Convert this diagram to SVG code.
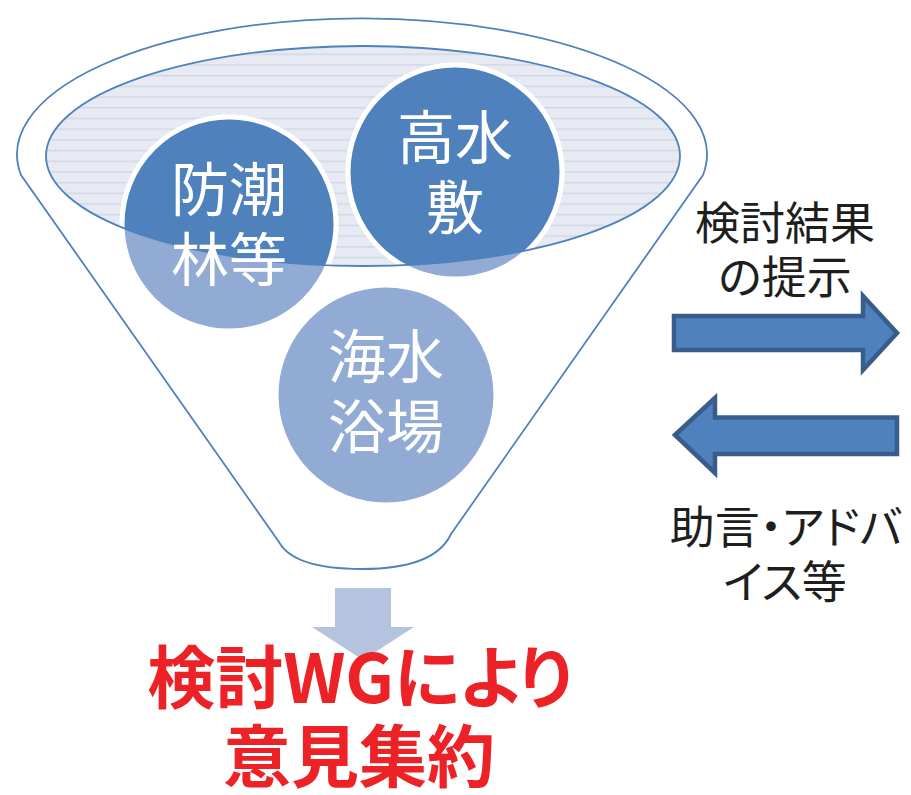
<svg xmlns="http://www.w3.org/2000/svg" width="911" height="795" viewBox="0 0 911 795">
<style>
.ct{font-family:"Noto Sans CJK JP","Noto Sans CJK SC",sans-serif;font-size:58px;fill:#ffffff;text-anchor:middle}
.bk{font-family:"Noto Sans CJK JP","Noto Sans CJK SC",sans-serif;font-size:45px;fill:#1e1e1e;text-anchor:middle;font-feature-settings:"palt"}
.rd{font-family:"Noto Sans CJK JP","Noto Sans CJK SC",sans-serif;font-size:68px;font-weight:700;fill:#ec2227;text-anchor:middle;font-feature-settings:"palt"}
.edge{fill:none;stroke:#4f81bd;stroke-width:1.8}
.lc{fill:#91abd5;stroke:#ffffff;stroke-width:5}
.dc{fill:#4f81bd;stroke:#ffffff;stroke-width:5}
.arr{fill:#4f81bd;stroke:#385d8a;stroke-width:4.5;stroke-linejoin:miter}
</style>
<defs>
<pattern id="lines" patternUnits="userSpaceOnUse" width="8" height="10.7">
<rect width="8" height="10.7" fill="#e7eaf2"/>
<rect width="8" height="1.4" fill="#d0d7e6"/>
</pattern>
<clipPath id="inner"><ellipse cx="363" cy="156" rx="317" ry="110"/></clipPath>
</defs>
<rect width="911" height="795" fill="#ffffff"/>
<g id="funnel">
<path class="edge" d="M21,175 A345 136 0 1 1 703,175 L451,534 C438,562 400,569 362,569 C322,569 290,562 279,542 Z"/>
</g>
<g id="funnel-top">
<ellipse cx="363" cy="156" rx="317" ry="110" fill="url(#lines)"/>
</g>
<g id="node-bousourin">
<circle class="lc" cx="229" cy="224" r="107"/>
<circle class="dc" cx="229" cy="224" r="107" clip-path="url(#inner)"/>
</g>
<g id="node-kousuishiki">
<circle class="lc" cx="455" cy="172" r="107"/>
<circle class="dc" cx="455" cy="172" r="107" clip-path="url(#inner)"/>
</g>
<g id="node-kaisuiyokujo">
<circle class="lc" cx="386" cy="395" r="110"/>
</g>
<ellipse class="edge" cx="363" cy="156" rx="317" ry="110"/>
<g id="node-text">
<text class="ct" x="229" y="211">防潮</text>
<text class="ct" x="229" y="281">林等</text>
<text class="ct" x="455" y="159">高水</text>
<text class="ct" x="455" y="229">敷</text>
<text class="ct" x="386" y="378">海水</text>
<text class="ct" x="386" y="448">浴場</text>
</g>
<g id="connectors">
<path id="arrow-down" d="M335,588 L391,588 L391,627 L414,627 L363,660 L312,627 L335,627 Z" fill="#b4c4de"/>
<path id="arrow-right" class="arr" d="M674,316 L863,316 L863,296 L897,333 L863,370 L863,350 L674,350 Z"/>
<path id="arrow-left" class="arr" d="M675,435 L715,398 L715,417.5 L897,417.5 L897,454 L715,454 L715,473 Z"/>
</g>
<g id="labels">
<text class="bk" x="785" y="240">検討結果</text>
<text class="bk" x="785" y="294">の提示</text>
<text class="bk" x="786" y="544">助言・アドバ</text>
<text class="bk" x="785" y="599">イス等</text>
<text class="rd" x="360" y="703">検討WGにより</text>
<text class="rd" x="359" y="782">意見集約</text>
</g>
</svg>
